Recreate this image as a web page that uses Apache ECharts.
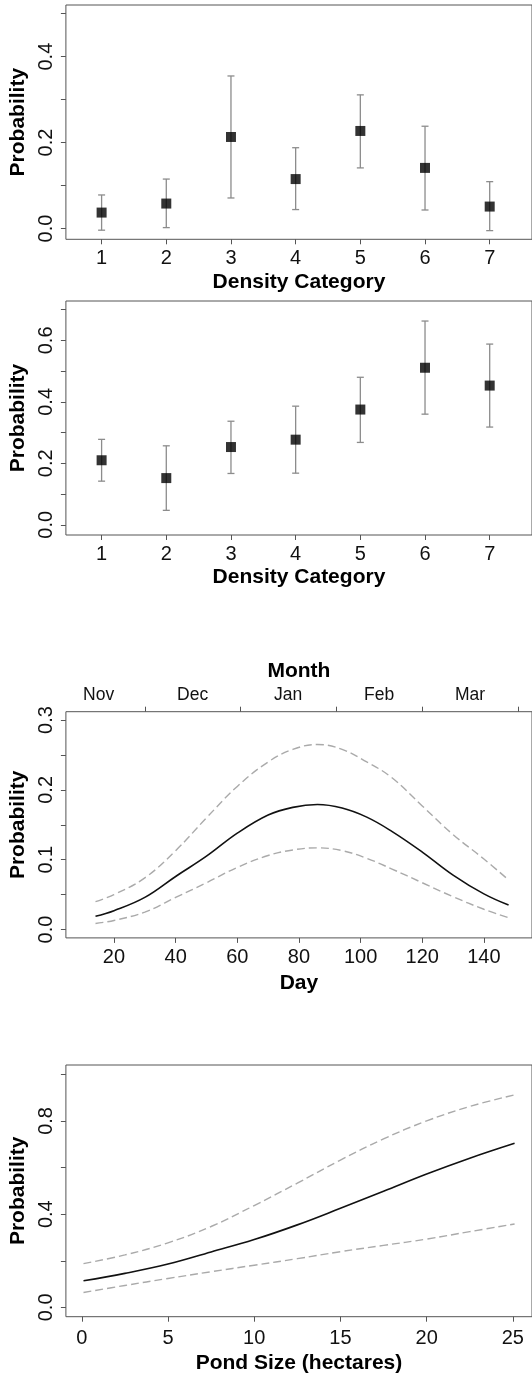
<!DOCTYPE html>
<html><head><meta charset="utf-8">
<script src="https://cdn.jsdelivr.net/npm/echarts@6/dist/echarts.min.js"></script>
<style>html,body{margin:0;padding:0;background:#fff}#c{width:532px;height:1376px}</style>
</head><body><div id="c"></div>
<script>
// ---- data ----
const densityCategories = [1, 2, 3, 4, 5, 6, 7];
const p1Est = [0.037, 0.058, 0.213, 0.115, 0.227, 0.141, 0.051];
const p1Lo  = [-0.004, 0.002, 0.071, 0.044, 0.141, 0.043, -0.005];
const p1Hi  = [0.078, 0.115, 0.355, 0.188, 0.311, 0.238, 0.109];
const p2Est = [0.210, 0.152, 0.253, 0.277, 0.375, 0.511, 0.453];
const p2Lo  = [0.142, 0.047, 0.167, 0.168, 0.268, 0.360, 0.318];
const p2Hi  = [0.278, 0.257, 0.337, 0.386, 0.480, 0.663, 0.588];

const days   = [14, 20, 30, 40, 50, 60, 70, 78, 86, 94, 102, 110, 120, 130, 140, 148];
const dayEst = [0.019, 0.027, 0.046, 0.076, 0.105, 0.138, 0.164, 0.175, 0.179, 0.174, 0.161, 0.141, 0.111, 0.078, 0.051, 0.035];
const dayHi  = [0.040, 0.050, 0.074, 0.113, 0.160, 0.205, 0.240, 0.258, 0.265, 0.258, 0.240, 0.218, 0.177, 0.136, 0.101, 0.071];
const dayLo  = [0.0086, 0.013, 0.025, 0.046, 0.067, 0.089, 0.106, 0.114, 0.117, 0.113, 0.102, 0.087, 0.067, 0.047, 0.029, 0.017];

const monthNames  = ['Nov', 'Dec', 'Jan', 'Feb', 'Mar'];
const monthMid    = [15, 45.5, 76.5, 106, 135.5];
const monthBounds = [30, 61, 92, 120, 151];

const pondSize = [0.1, 2.5, 5, 7.5, 10, 12.5, 15, 17.5, 20, 22.5, 25.1];
const pondEst  = [0.114, 0.146, 0.186, 0.238, 0.291, 0.354, 0.425, 0.498, 0.572, 0.640, 0.704];
const pondHi   = [0.188, 0.225, 0.277, 0.347, 0.437, 0.533, 0.632, 0.723, 0.800, 0.862, 0.912];
const pondLo   = [0.064, 0.094, 0.124, 0.153, 0.181, 0.209, 0.239, 0.266, 0.293, 0.325, 0.358];

const yTicks1 = [0, 0.1, 0.2, 0.3, 0.4, 0.5];
const yLabels1 = [0, 0.2, 0.4];
const yTicks2 = [0, 0.1, 0.2, 0.3, 0.4, 0.5, 0.6, 0.7];
const yLabels2 = [0, 0.2, 0.4, 0.6];
const yTicks3 = [0, 0.05, 0.1, 0.15, 0.2, 0.25, 0.3];
const yLabels3 = [0, 0.1, 0.2, 0.3];
const yTicks4 = [0, 0.2, 0.4, 0.6, 0.8, 1.0];
const yLabels4 = [0, 0.4, 0.8];
const xTicksDay = [20, 40, 60, 80, 100, 120, 140];
const xTicksPond = [0, 5, 10, 15, 20, 25];

// ---- styles ----
const FONT = '"Liberation Sans", Arial, Helvetica, sans-serif';
const AX = '#555';
const tickStyle = { show: true, inside: false, length: 5, lineStyle: { color: AX, width: 1 } };

function yAxis(grid, min, max, ticks, labels) {
  return {
    type: 'value', gridIndex: grid, min: min, max: max, position: 'left',
    axisLine: { show: false, onZero: false }, splitLine: { show: false },
    axisTick: Object.assign({ customValues: ticks }, tickStyle),
    axisLabel: { customValues: labels, rotate: 90, margin: 9, fontSize: 20, color: '#111', fontFamily: FONT,
      formatter: v => Number(v).toFixed(1) },
    name: 'Probability', nameLocation: 'middle', nameGap: 36,
    nameTextStyle: { fontSize: 21, fontWeight: 'bold', color: '#000', fontFamily: FONT }
  };
}
function xAxis(grid, min, max, ticks, name, margin, gap) {
  return {
    type: 'value', gridIndex: grid, min: min, max: max, position: 'bottom',
    axisLine: { show: false, onZero: false }, splitLine: { show: false },
    axisTick: Object.assign({ customValues: ticks }, tickStyle),
    axisLabel: { customValues: ticks, margin: margin, fontSize: 20, color: '#111', fontFamily: FONT,
      formatter: v => String(v) },
    name: name, nameLocation: 'middle', nameGap: gap,
    nameTextStyle: { fontSize: 21, fontWeight: 'bold', color: '#000', fontFamily: FONT }
  };
}
function gridBox(left, top, width, height) {
  return { left: left, top: top, width: width, height: height, show: true,
    borderColor: AX, borderWidth: 1, backgroundColor: 'transparent' };
}
function errSeries(xi, yi, lo, hi) {
  return {
    type: 'custom', xAxisIndex: xi, yAxisIndex: yi, z: 1, silent: true,
    data: densityCategories.map((c, i) => [c, lo[i], hi[i]]),
    encode: { x: 0, y: [1, 2] },
    renderItem(params, api) {
      const x = api.value(0);
      const a = api.coord([x, api.value(1)]);
      const b = api.coord([x, api.value(2)]);
      const hw = 3.5;
      const st = { stroke: '#8c8c8c', lineWidth: 1.3 };
      return { type: 'group', children: [
        { type: 'line', shape: { x1: a[0], y1: a[1], x2: b[0], y2: b[1] }, style: st },
        { type: 'line', shape: { x1: a[0] - hw, y1: a[1], x2: a[0] + hw, y2: a[1] }, style: st },
        { type: 'line', shape: { x1: b[0] - hw, y1: b[1], x2: b[0] + hw, y2: b[1] }, style: st }
      ] };
    }
  };
}
function pointSeries(xi, yi, est) {
  return { type: 'scatter', xAxisIndex: xi, yAxisIndex: yi, z: 3, symbol: 'rect', symbolSize: 10,
    itemStyle: { color: '#000' }, data: densityCategories.map((c, i) => [c, est[i]]) };
}
function lineSeries(xi, yi, xs, ys, dashed) {
  return { type: 'line', xAxisIndex: xi, yAxisIndex: yi, smooth: 0.4, showSymbol: false, symbol: 'none',
    data: xs.map((x, i) => [x, ys[i]]),
    lineStyle: dashed ? { color: '#aaaaaa', width: 1.4, type: [8, 4] } : { color: '#111', width: 1.6 },
    z: dashed ? 2 : 3 };
}

const option = {
  animation: false,
  backgroundColor: '#fff',
  textStyle: { fontFamily: FONT },
  grid: [
    gridBox(64.5, 5, 469, 234.3),
    gridBox(64.5, 301, 469, 234),
    gridBox(62.8, 711.7, 472.5, 226.2),
    gridBox(62.6, 1065, 471.6, 251.7)
  ],
  xAxis: [
    xAxis(0, 0.448, 7.654, densityCategories, 'Density Category', 9, 32),
    xAxis(1, 0.448, 7.654, densityCategories, 'Density Category', 9, 32),
    xAxis(2, 4.4, 155.6, xTicksDay, 'Day', 10, 35),
    xAxis(3, -0.92, 26.11, xTicksPond, 'Pond Size (hectares)', 12, 36),
    {
      type: 'value', gridIndex: 2, min: 4.4, max: 155.6, position: 'top',
      axisLine: { show: false, onZero: false }, splitLine: { show: false },
      axisTick: Object.assign({ customValues: monthBounds }, tickStyle),
      axisLabel: { customValues: monthMid, margin: 8, fontSize: 17.5, color: '#111', fontFamily: FONT,
        formatter: v => monthNames[monthMid.indexOf(v)] },
      name: 'Month', nameLocation: 'middle', nameGap: 30,
      nameTextStyle: { fontSize: 21, fontWeight: 'bold', color: '#000', fontFamily: FONT }
    }
  ],
  yAxis: [
    yAxis(0, -0.0252, 0.5202, yTicks1, yLabels1),
    yAxis(1, -0.0332, 0.7282, yTicks2, yLabels2),
    yAxis(2, -0.012, 0.312, yTicks3, yLabels3),
    yAxis(3, -0.04, 1.04, yTicks4, yLabels4)
  ],
  series: [
    errSeries(0, 0, p1Lo, p1Hi),
    pointSeries(0, 0, p1Est),
    errSeries(1, 1, p2Lo, p2Hi),
    pointSeries(1, 1, p2Est),
    lineSeries(2, 2, days, dayHi, true),
    lineSeries(2, 2, days, dayLo, true),
    lineSeries(2, 2, days, dayEst, false),
    lineSeries(3, 3, pondSize, pondHi, true),
    lineSeries(3, 3, pondSize, pondLo, true),
    lineSeries(3, 3, pondSize, pondEst, false)
  ]
};
const chart = echarts.init(document.getElementById('c'), null, { renderer: 'canvas' });
chart.setOption(option);
</script>
</body></html>
